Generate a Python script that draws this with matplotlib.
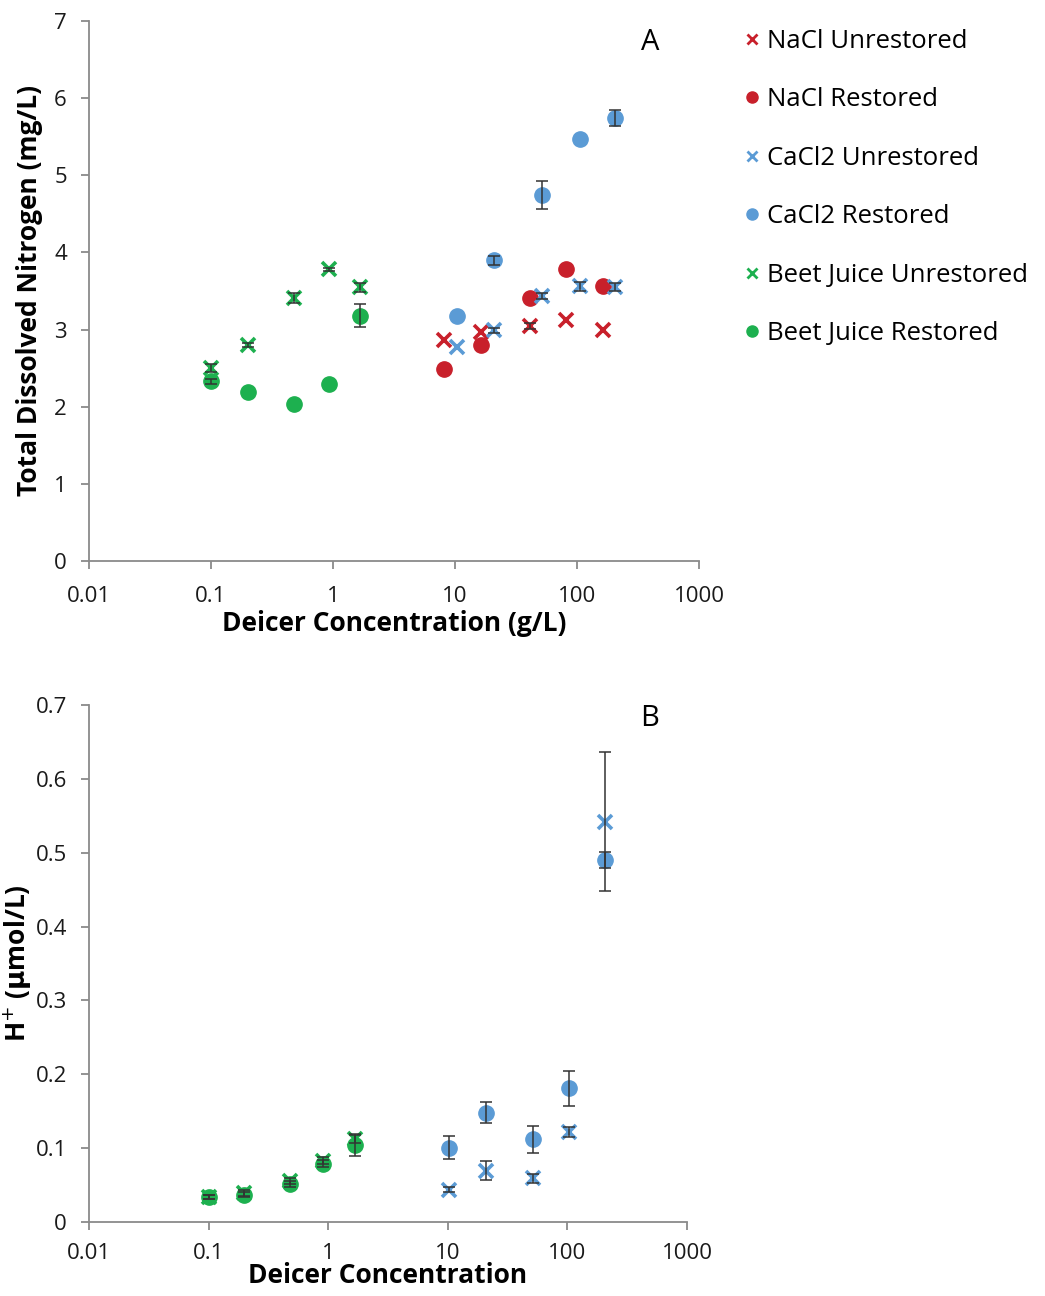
import numpy as np
import matplotlib
matplotlib.use('Agg')
import matplotlib.pyplot as plt
from matplotlib.lines import Line2D
from matplotlib.ticker import FixedLocator, FuncFormatter

plt.rcParams['font.family'] = ['Open Sans', 'DejaVu Sans']

# colours (Excel-ish)
red = '#C8202B'
blue = '#5B9BD5'
green = '#1DB04F'
axis_grey = '#8A8A8A'

# ---- panel A: total dissolved nitrogen (mg/L) ----
nacl_conc_a = [8.2, 16.2, 41, 82, 163]
nacl_unres_a = [2.86, 2.97, 3.05, 3.12, 2.99]
nacl_unres_a_err = [0, 0, 0.04, 0, 0]
nacl_res_a = [2.49, 2.80, 3.41, 3.78, 3.56]
nacl_res_a_err = [0, 0, 0, 0, 0]

cacl_conc_a = [10.4, 21, 52, 105, 206]
cacl_unres_a = [2.78, 2.99, 3.43, 3.56, 3.55]
cacl_unres_a_err = [0, 0.03, 0.04, 0.06, 0.05]
cacl_res_a = [3.18, 3.90, 4.74, 5.47, 5.74]
cacl_res_a_err = [0, 0.06, 0.18, 0, 0.10]

beet_conc_a = [0.1, 0.2, 0.48, 0.93, 1.67]
beet_unres_a = [2.50, 2.80, 3.41, 3.78, 3.55]
beet_unres_a_err = [0.05, 0.02, 0.07, 0.02, 0.06]
beet_res_a = [2.33, 2.19, 2.03, 2.29, 3.18]
beet_res_a_err = [0.03, 0, 0, 0, 0.15]

# ---- panel B: H+ (umol/L) ----
cacl_conc_b = [10.3, 20.9, 51.7, 104, 207]
cacl_unres_b = [0.044, 0.0695, 0.059, 0.1215, 0.542]
cacl_unres_b_err = [0.004, 0.013, 0.006, 0.007, 0.094]
cacl_res_b = [0.1007, 0.148, 0.112, 0.181, 0.490]
cacl_res_b_err = [0.016, 0.014, 0.018, 0.024, 0.011]

beet_conc_b = [0.1, 0.198, 0.48, 0.91, 1.67]
beet_unres_b = [0.034, 0.039, 0.055, 0.083, 0.113]
beet_unres_b_err = [0.003, 0.004, 0.004, 0.005, 0.006]
beet_res_b = [0.034, 0.037, 0.051, 0.079, 0.104]
beet_res_b_err = [0.003, 0.003, 0.004, 0.005, 0.014]

legend_labels = ['NaCl Unrestored', 'NaCl Restored', 'CaCl2 Unrestored',
                 'CaCl2 Restored', 'Beet Juice Unrestored', 'Beet Juice Restored']
xticks = [0.01, 0.1, 1, 10, 100, 1000]

fig = plt.figure(figsize=(10.45, 12.96), dpi=100)
axA = fig.add_axes([89 / 1045, 1 - 561 / 1296, (699 - 89) / 1045, 540 / 1296])
axB = fig.add_axes([89 / 1045, 1 - 1222 / 1296, (687 - 89) / 1045, 517 / 1296])


def plot_series(ax, x, y, err, color, marker):
    if marker == 'x':
        ax.plot(x, y, linestyle='none', marker='x', ms=10, mew=2.6, color=color, zorder=3)
    else:
        ax.plot(x, y, linestyle='none', marker='o', ms=11, color=color, mec=color, zorder=3)
    err = np.array(err)
    if err.any():
        m = err > 0
        ax.errorbar(np.array(x)[m], np.array(y)[m], yerr=err[m], fmt='none',
                    ecolor='#333333', elinewidth=1.1, capsize=4, capthick=1.1, zorder=4)


plot_series(axA, nacl_conc_a, nacl_unres_a, nacl_unres_a_err, red, 'x')
plot_series(axA, nacl_conc_a, nacl_res_a, nacl_res_a_err, red, 'o')
plot_series(axA, cacl_conc_a, cacl_unres_a, cacl_unres_a_err, blue, 'x')
plot_series(axA, cacl_conc_a, cacl_res_a, cacl_res_a_err, blue, 'o')
plot_series(axA, beet_conc_a, beet_unres_a, beet_unres_a_err, green, 'x')
plot_series(axA, beet_conc_a, beet_res_a, beet_res_a_err, green, 'o')

plot_series(axB, cacl_conc_b, cacl_unres_b, cacl_unres_b_err, blue, 'x')
plot_series(axB, cacl_conc_b, cacl_res_b, cacl_res_b_err, blue, 'o')
plot_series(axB, beet_conc_b, beet_unres_b, beet_unres_b_err, green, 'x')
plot_series(axB, beet_conc_b, beet_res_b, beet_res_b_err, green, 'o')

for ax in (axA, axB):
    ax.set_xscale('log')
    ax.set_xlim(0.01, 1000)
    ax.xaxis.set_major_locator(FixedLocator(xticks))
    ax.xaxis.set_minor_locator(FixedLocator([]))
    ax.xaxis.set_major_formatter(FuncFormatter(lambda v, p: '%g' % v))
    for s in ('top', 'right'):
        ax.spines[s].set_visible(False)
    for s in ('left', 'bottom'):
        ax.spines[s].set_color(axis_grey)
        ax.spines[s].set_linewidth(1.3)
    ax.tick_params(axis='both', colors=axis_grey, labelcolor='#1a1a1a',
                   labelsize=16, length=6, width=1.3, direction='out')
    ax.tick_params(axis='y', pad=10)
axA.tick_params(axis='x', pad=12)
axB.tick_params(axis='x', pad=9)

axA.set_ylim(0, 7)
axA.set_yticks(range(8))
axB.set_ylim(0, 0.7)
axB.set_yticks(np.arange(0, 0.71, 0.1))
axB.yaxis.set_major_formatter(FuncFormatter(lambda v, p: '%g' % round(v, 2)))

axA.set_xlabel('Deicer Concentration (g/L)', fontsize=19, fontweight='bold', labelpad=2)
axA.set_ylabel('Total Dissolved Nitrogen (mg/L)', fontsize=19, fontweight='bold', labelpad=8)
axB.set_xlabel('Deicer Concentration', fontsize=19, fontweight='bold', labelpad=-1)
axB.set_ylabel(r'H$^{+}$ ($\mathbf{\mu}$mol/L)', fontsize=19, fontweight='bold', labelpad=1)

fig.text(650 / 1045, 1 - 43 / 1296, 'A', fontsize=21, ha='center', va='center')
fig.text(650 / 1045, 1 - 718 / 1296, 'B', fontsize=21, ha='center', va='center')

handles = [
    Line2D([], [], ls='none', marker='x', ms=7, mew=2, color=red),
    Line2D([], [], ls='none', marker='o', ms=8, color=red),
    Line2D([], [], ls='none', marker='x', ms=7, mew=2, color=blue),
    Line2D([], [], ls='none', marker='o', ms=8, color=blue),
    Line2D([], [], ls='none', marker='x', ms=7, mew=2, color=green),
    Line2D([], [], ls='none', marker='o', ms=8, color=green),
]
fig.legend(handles, legend_labels, loc='upper left',
           bbox_to_anchor=(744 / 1045, 1 - 29 / 1296), frameon=False,
           fontsize=18.5, handlelength=0.6, handletextpad=0.3, labelspacing=1.3,
           borderaxespad=0, borderpad=0)

fig.savefig('out.png', dpi=100, facecolor='white')
